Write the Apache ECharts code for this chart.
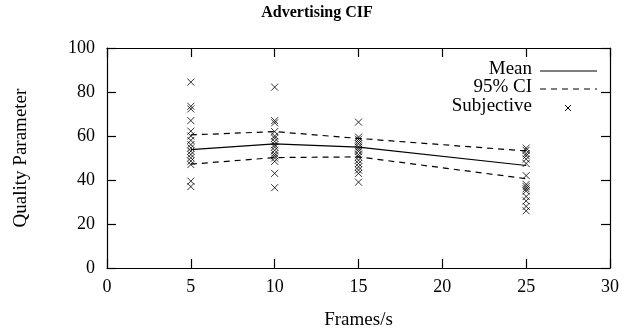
<!DOCTYPE html>
<html>
<head>
<meta charset="utf-8">
<script src="https://cdn.jsdelivr.net/npm/echarts@6/dist/echarts.min.js"></script>
<style>
  html, body { margin: 0; padding: 0; background: #fff; }
  #chart { width: 634px; height: 335px; }
</style>
</head>
<body>
<div id="chart"></div>
<script>
// Frame rates tested and the mean / confidence interval at each
const frameRates = [5, 10, 15, 25];
const meanScore = [53.8, 56.4, 54.9, 46.6];
const ciUpper = [60.5, 62.0, 58.9, 53.2];
const ciLower = [47.2, 50.2, 50.5, 40.6];

// Individual subjective ratings per frame rate
const subjective5 = [84.5, 73.5, 72.3, 67, 62.2, 60, 58, 56.1, 54.6, 53.1, 51.6, 50.1, 48.6, 47, 39.5, 37];
const subjective10 = [82.2, 67, 66, 62, 60, 59, 57.5, 56, 55, 53.5, 52, 51, 50, 48.5, 43, 36.5];
const subjective15 = [66.3, 59.5, 58.5, 57.5, 56.5, 55, 54, 53, 51.5, 50.5, 49, 47.5, 46, 44.5, 43, 39];
const subjective25 = [54.5, 53.5, 52, 51, 49.5, 47.5, 42, 38, 37, 36, 35, 32.5, 30.5, 28, 26];

const xTicks = { min: 0, max: 30, step: 5 };
const yTicks = { min: 0, max: 100, step: 20 };

const serif = '"Liberation Serif", "DejaVu Serif", serif';
const crossPath = 'path://M0,0L10,10M10,0L0,10';

function pairs(xs, ys) { return xs.map((x, i) => [x, ys[i]]); }

const subjectivePoints = []
  .concat(subjective5.map(v => [5, v]))
  .concat(subjective10.map(v => [10, v]))
  .concat(subjective15.map(v => [15, v]))
  .concat(subjective25.map(v => [25, v]));

const chart = echarts.init(document.getElementById('chart'), null, { renderer: 'canvas' });

const axisBase = {
  type: 'value',
  axisLine: { show: true, onZero: false, lineStyle: { color: '#000', width: 1.2 } },
  axisTick: { show: true, inside: true, length: 9, lineStyle: { color: '#000', width: 1.2 } },
  splitLine: { show: false },
  minorTick: { show: false }
};

const legendX = 532;
const sampleX0 = 540, sampleX1 = 597;
const legendRows = [71, 89, 108];
const legendFont = '19px ' + serif;

chart.setOption({
  animation: false,
  backgroundColor: '#fff',
  title: {
    text: 'Advertising CIF',
    left: 'center',
    top: 0,
    textStyle: { fontFamily: serif, fontWeight: 'bold', fontSize: 16, color: '#000' }
  },
  grid: { left: 107, right: 24, top: 48, bottom: 67 },
  xAxis: [
    Object.assign({}, axisBase, {
      position: 'bottom',
      min: xTicks.min, max: xTicks.max, interval: xTicks.step,
      name: 'Frames/s', nameLocation: 'middle', nameGap: 43,
      nameTextStyle: { fontFamily: serif, fontSize: 19, color: '#000' },
      axisLabel: { margin: 10, fontFamily: serif, fontSize: 18, color: '#000' }
    }),
    Object.assign({}, axisBase, {
      position: 'top',
      min: xTicks.min, max: xTicks.max, interval: xTicks.step,
      axisLabel: { show: false }
    })
  ],
  yAxis: [
    Object.assign({}, axisBase, {
      position: 'left',
      min: yTicks.min, max: yTicks.max, interval: yTicks.step,
      name: 'Quality Parameter', nameLocation: 'middle', nameGap: 76, nameRotate: 90,
      nameTextStyle: { fontFamily: serif, fontSize: 19, color: '#000' },
      axisLabel: { margin: 12, fontFamily: serif, fontSize: 18, color: '#000' }
    }),
    Object.assign({}, axisBase, {
      position: 'right',
      min: yTicks.min, max: yTicks.max, interval: yTicks.step,
      axisLabel: { show: false }
    })
  ],
  series: [
    {
      name: 'Mean', type: 'line', data: pairs(frameRates, meanScore),
      showSymbol: false, symbol: 'none',
      lineStyle: { color: '#000', width: 1.2 }, z: 3
    },
    {
      name: '95% CI upper', type: 'line', data: pairs(frameRates, ciUpper),
      showSymbol: false, symbol: 'none',
      lineStyle: { color: '#000', width: 1.2, type: [6, 5] }, z: 3
    },
    {
      name: '95% CI lower', type: 'line', data: pairs(frameRates, ciLower),
      showSymbol: false, symbol: 'none',
      lineStyle: { color: '#000', width: 1.2, type: [6, 5] }, z: 3
    },
    {
      name: 'Subjective', type: 'scatter', data: subjectivePoints,
      symbol: crossPath, symbolSize: 7,
      itemStyle: { color: 'rgba(0,0,0,0)', borderColor: '#000', borderWidth: 1 }, z: 4
    }
  ],
  graphic: [
    { type: 'text', right: 634 - legendX, top: legendRows[0] - 11,
      style: { text: 'Mean', font: legendFont, fill: '#000', textAlign: 'right' } },
    { type: 'line', shape: { x1: sampleX0, y1: legendRows[0], x2: sampleX1, y2: legendRows[0] },
      style: { stroke: '#000', lineWidth: 1.2 } },
    { type: 'text', right: 634 - legendX, top: legendRows[1] - 11,
      style: { text: '95% CI', font: legendFont, fill: '#000', textAlign: 'right' } },
    { type: 'line', shape: { x1: sampleX0, y1: legendRows[1], x2: sampleX1, y2: legendRows[1] },
      style: { stroke: '#000', lineWidth: 1.2, lineDash: [6, 5] } },
    { type: 'text', right: 634 - legendX, top: legendRows[2] - 11,
      style: { text: 'Subjective', font: legendFont, fill: '#000', textAlign: 'right' } },
    { type: 'polyline', shape: { points: [[565, 105], [571, 111]] }, style: { stroke: '#000', lineWidth: 1 } },
    { type: 'polyline', shape: { points: [[571, 105], [565, 111]] }, style: { stroke: '#000', lineWidth: 1 } }
  ]
});
</script>
</body>
</html>
